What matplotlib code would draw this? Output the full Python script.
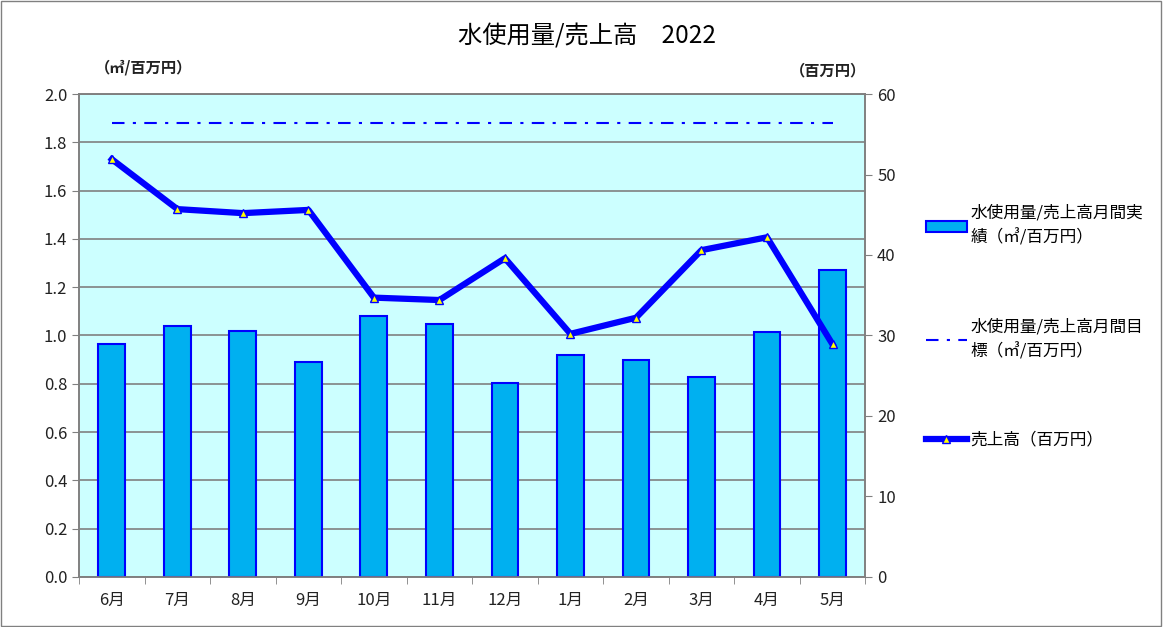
import matplotlib
matplotlib.use("Agg")
import matplotlib.pyplot as plt
from matplotlib.patches import Rectangle

plt.rcParams['font.family'] = ['Noto Sans CJK JP', 'DejaVu Sans']

# データ
months = ['6月', '7月', '8月', '9月', '10月', '11月', '12月', '1月', '2月', '3月', '4月', '5月']
water_per_sales = [0.965, 1.039, 1.019, 0.890, 1.081, 1.048, 0.803, 0.919, 0.899, 0.828, 1.014, 1.271]
target = [1.88] * 12
sales = [51.9, 45.7, 45.2, 45.6, 34.7, 34.4, 39.6, 30.2, 32.2, 40.6, 42.2, 28.9]

fig = plt.figure(figsize=(11.63, 6.27), dpi=100)
ax1 = fig.add_axes([0.068, 0.080, 0.676, 0.770])
ax1.set_facecolor('#CCFFFF')

x = list(range(len(months)))
bars = ax1.bar(x, water_per_sales, width=0.41, color='#00B0F0', edgecolor='#0000FF',
               linewidth=1.5, zorder=3, label='水使用量/売上高月間実\n績（㎥/百万円）')
tline, = ax1.plot(x, target, color='#0000FF', linestyle=(0, (6, 4, 1.5, 4)), linewidth=1.5,
                  zorder=4, label='水使用量/売上高月間目\n標（㎥/百万円）')

ax1.set_xlim(-0.5, len(months) - 0.5)
ax1.set_ylim(0, 2.0)
ax1.set_yticks([i * 0.2 for i in range(11)])
ax1.set_yticklabels(['%.1f' % (i * 0.2) for i in range(11)])
ax1.grid(axis='y', color='#808080', linewidth=1.2, zorder=1)
ax1.set_axisbelow(True)
ax1.set_xticks(x)
ax1.set_xticklabels(months)
ax1.set_xticks([i - 0.5 for i in range(len(months) + 1)], minor=True)
ax1.tick_params(axis='x', which='major', length=0, pad=11, labelsize=12, colors='#222222')
ax1.tick_params(axis='x', which='minor', length=5, color='#808080')
ax1.tick_params(axis='y', length=5, color='#808080', labelsize=12, labelcolor='#222222')

ax2 = ax1.twinx()
sline, = ax2.plot(x, sales, color='#0000FF', linewidth=4.5, marker='^', markersize=6,
                  markerfacecolor='#FFFF00', markeredgecolor='#0000FF', markeredgewidth=1,
                  zorder=5, label='売上高（百万円）')
ax2.set_ylim(0, 60)
ax2.set_yticks(range(0, 61, 10))
ax2.tick_params(axis='y', length=5, color='#808080', labelsize=12, labelcolor='#222222')

for a in (ax1, ax2):
    for s in a.spines.values():
        s.set_color('#808080')
        s.set_linewidth(1.2)

fig.text(0.505, 0.942, '水使用量/売上高　2022', ha='center', va='center', fontsize=17.5)
fig.text(0.082, 0.893, '（㎥/百万円）', ha='left', va='center', fontsize=11, fontweight='bold', color='#222222')
fig.text(0.745, 0.888, '（百万円）', ha='right', va='center', fontsize=11, fontweight='bold', color='#222222')

leg = fig.legend(handles=[bars, tline, sline], loc='upper left', bbox_to_anchor=(0.783, 0.697),
                 frameon=False, fontsize=12, labelspacing=4.3, handlelength=2.5, handletextpad=0.2)
for t in leg.get_texts():
    t.set_linespacing(1.55)

fig.patches.append(Rectangle((0.001, 0.001), 0.997, 0.997, transform=fig.transFigure,
                             fill=False, edgecolor='#808080', linewidth=1))

fig.savefig('out.png', dpi=100)
